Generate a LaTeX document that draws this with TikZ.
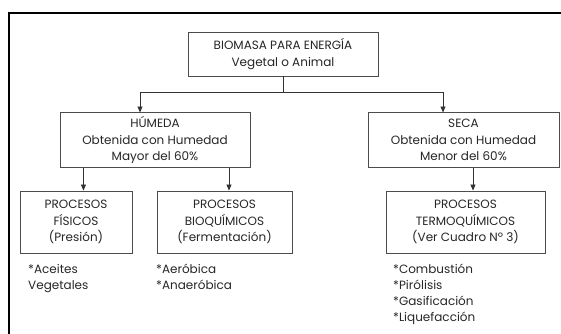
\documentclass[tikz,border=0pt]{standalone}
\usepackage{fontspec}
\setmainfont{Poppins}
\usetikzlibrary{arrows.meta}
\tikzset{
  box/.style={draw=black!70, line width=0.9pt, fill=white, align=center, inner sep=0pt,
    font=\fontsize{12}{16.5}\selectfont, text=black!85},
  lst/.style={anchor=north west, align=left, inner sep=0pt,
    font=\fontsize{12}{16}\selectfont, text=black!85},
  conn/.style={draw=black!80, line width=0.8pt},
  arr/.style={conn, -{Triangle[length=6pt,width=5pt]}},
}
\begin{document}
\begin{tikzpicture}[x=1pt,y=-1pt]
\useasboundingbox (0,0) rectangle (561,333);
\draw[line width=2pt] (561,13) -- (8.5,13) -- (8.5,334);
\node[box, minimum width=190pt, minimum height=44pt] (top) at (283,54) {BIOMASA PARA ENERGÍA\\Vegetal o Animal};
\node[box, minimum width=190pt, minimum height=55pt] (hum) at (155,140) {HÚMEDA\\Obtenida con Humedad\\Mayor del 60\%};
\node[box, minimum width=191pt, minimum height=55pt] (seca) at (463.5,140) {SECA\\Obtenida con Humedad\\Menor del 60\%};
\node[box, minimum width=112pt, minimum height=62pt] (fis) at (76,222) {PROCESOS\\FÍSICOS\\(Presión)};
\node[box, minimum width=135pt, minimum height=62pt] (bio) at (224.5,222) {PROCESOS\\BIOQUÍMICOS\\(Fermentación)};
\node[box, minimum width=159pt, minimum height=62pt] (termo) at (465.5,222) {PROCESOS\\TERMOQUÍMICOS\\(Ver Cuadro Nº 3)};
\coordinate (jn) at (283,92);
\coordinate (ha) at (140,112.5);
\coordinate (sa) at (443,112.5);
\draw[conn] (top.south) -- (jn);
\draw[arr] (jn) -| (ha);
\draw[arr] (jn) -| (sa);
\draw[arr] (hum.south -| fis.north east) ++(-49,0) coordinate (h1) (h1) -- (h1 |- fis.north);
\coordinate (h2) at (229,167.5);
\draw[arr] (h2) -- (h2 |- bio.north);
\coordinate (s1) at (473,167.5);
\draw[arr] (s1) -- (s1 |- termo.north);
\node[lst] (l1) at (28,264) {*Aceites\\Vegetales};
\node[lst] (l2) at (156,264) {*Aeróbica\\*Anaeróbica};
\node[lst] (l3) at (393,264) {*Combustión\\*Pirólisis\\*Gasificación\\*Liquefacción};
\end{tikzpicture}
\end{document}
